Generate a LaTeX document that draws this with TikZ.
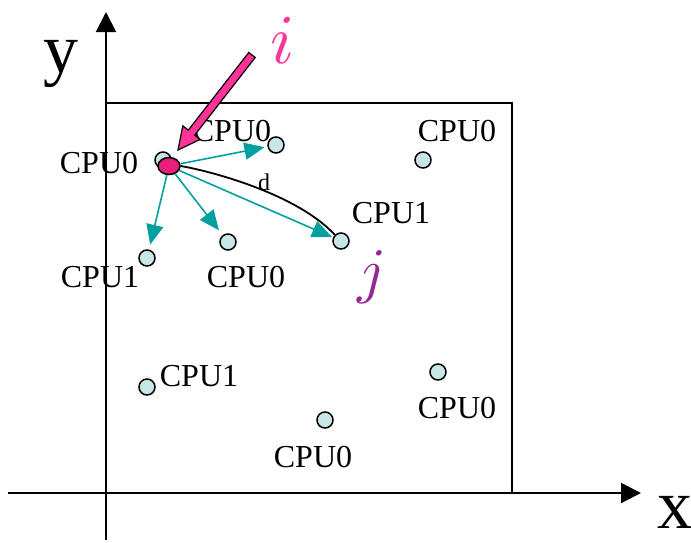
\documentclass[tikz,border=0pt]{standalone}
\usepackage{fontspec}
\setmainfont{Liberation Serif}
\usetikzlibrary{arrows.meta,shapes.geometric}
\definecolor{cpufill}{RGB}{200,230,230}
\definecolor{pinknode}{RGB}{232,30,122}
\definecolor{pinklab}{RGB}{255,51,153}
\definecolor{purplelab}{RGB}{150,40,150}
\definecolor{tealc}{RGB}{0,160,160}
\tikzset{
  cpu/.style={circle,draw=black,fill=cpufill,line width=1.5pt,minimum size=16pt,inner sep=0pt},
  src/.style={ellipse,draw=black,fill=pinknode,line width=1.5pt,minimum width=22pt,minimum height=17pt,inner sep=0pt},
  lab/.style={inner sep=0pt,font=\fontsize{32}{32}\selectfont},
  axislab/.style={inner sep=0pt,font=\fontsize{70}{70}\selectfont},
  axis/.style={line width=2pt,-{Triangle[length=20pt,width=20pt]}},
  frame/.style={line width=2pt},
  tarrow/.style={tealc,line width=1.6pt,-{Triangle[length=20pt,width=17pt]}},
  dcurve/.style={black,line width=1.8pt},
}
\begin{document}
\begin{tikzpicture}[x=1pt,y=-1pt]
\useasboundingbox (0,0) rectangle (691,542);
% axes
\coordinate (xs) at (8,493);
\coordinate (xe) at (641,493);
\coordinate (ys) at (106,540);
\coordinate (ye) at (106,12);
\draw[axis] (xs) -- (xe);
\draw[axis] (ys) -- (ye);
\draw[frame] (106,103) -- (512,103) -- (512,493);
\node[axislab] (ylab) at (61,64) {y};
\node[axislab] (xlab) at (675,512) {x};
% nodes
\node[cpu] (a) at (163,160) {};
\node[cpu] (b) at (276,145) {};
\node[cpu] (c) at (423,160) {};
\node[cpu] (jn) at (341,241) {};
\node[cpu] (e) at (228,242) {};
\node[cpu] (f) at (147,258) {};
\node[cpu] (g) at (147,387) {};
\node[cpu] (h) at (438,372) {};
\node[cpu] (k) at (325,420) {};
\node[src] (in) at (169,166) {};
% labels
\node[lab] (la) at (99,163) {CPU0};
\node[lab] (lb) at (232,131) {CPU0};
\node[lab] (lc) at (457,131) {CPU0};
\node[lab] (lj) at (391,213) {CPU1};
\node[lab] (le) at (246,277) {CPU0};
\node[lab] (lf) at (100,277) {CPU1};
\node[lab] (lg) at (199,376) {CPU1};
\node[lab] (lh) at (457,408) {CPU0};
\node[lab] (lk) at (313,457) {CPU0};
\node[inner sep=0pt,scale=7,text=pinklab] (ilab) at (283,40) {$i$};
\node[inner sep=0pt,scale=6.2,text=purplelab] (jlab) at (372,277) {$j$};
\node[inner sep=0pt,font=\fontsize{24}{24}\selectfont] (dlab) at (264,182) {d};
% teal arrows
\draw[tarrow,shorten >=3pt] (in) -- (b);
\draw[tarrow,shorten >=5pt] (in) -- (f);
\draw[tarrow,shorten >=6pt] (in) -- (e);
\draw[tarrow,shorten >=1pt] (in) -- (jn);
% distance curve
\draw[dcurve] (in.east) .. controls (215,172) and (298,195) .. (jn.north west);
% pink block arrow
\draw[fill=pinklab,line width=1.2pt,line join=miter]
  (255.2,57.5) -- (194.7,135.1) -- (200.2,139.4) -- (178,150) -- (182.8,125.8)
  -- (188.3,130.1) -- (248.8,52.5) -- cycle;
\end{tikzpicture}
\end{document}
